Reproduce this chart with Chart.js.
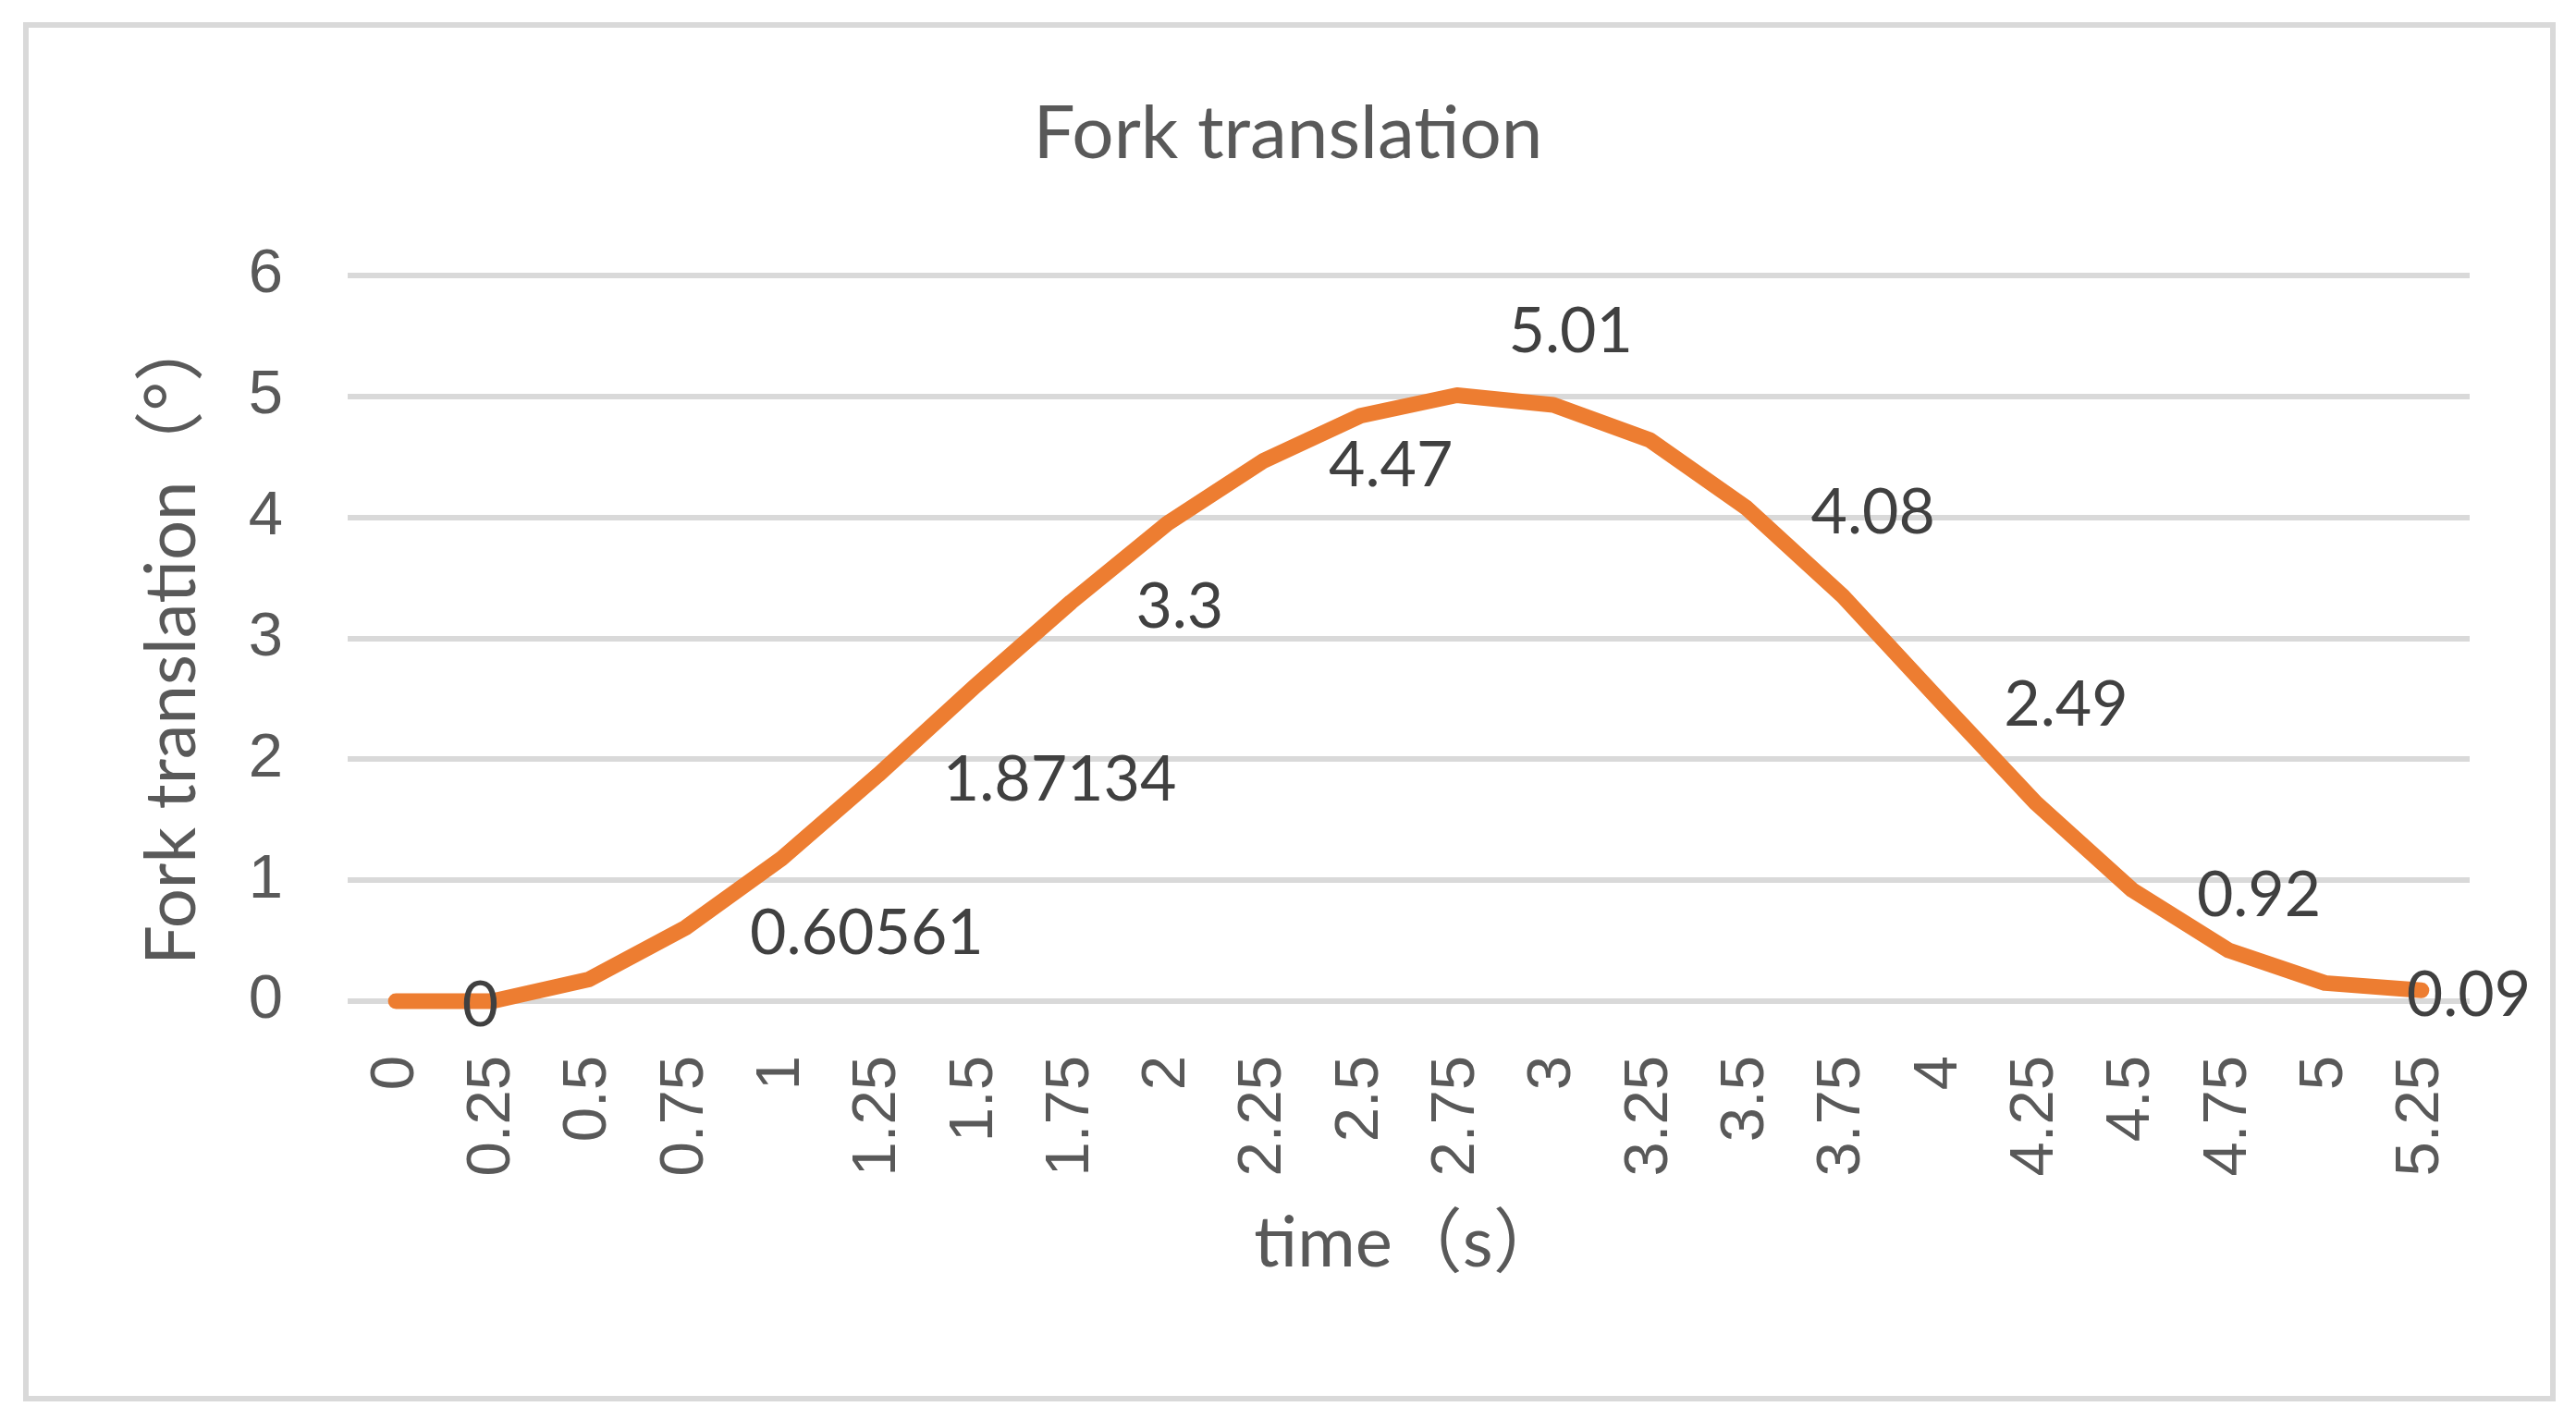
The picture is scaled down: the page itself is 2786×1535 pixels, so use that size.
<!DOCTYPE html>
<html>
<head>
<meta charset="utf-8">
<script src="https://cdn.jsdelivr.net/npm/chart.js@4.4.0/dist/chart.umd.min.js"></script>
<style>
  html, body { margin: 0; padding: 0; background: #fff; }
  body { width: 2786px; height: 1535px; position: relative; overflow: hidden; }
  .frame { position: absolute; left: 25px; top: 24px; width: 2727px; height: 1480px; border: 6px solid #d9d9d9; }
  #forkChart { position: absolute; left: 0; top: 0; }
</style>
</head>
<body>
<div class="frame"></div>
<canvas id="forkChart" width="2786" height="1535"></canvas>
<script>
const timeLabels = ['0', '0.25', '0.5', '0.75', '1', '1.25', '1.5', '1.75', '2', '2.25', '2.5',
    '2.75', '3', '3.25', '3.5', '3.75', '4', '4.25', '4.5', '4.75', '5', '5.25'];
const forkValues = [0, 0, 0.18, 0.60561, 1.18, 1.87134, 2.6, 3.3, 3.95, 4.47, 4.84,
    5.01, 4.93, 4.64, 4.08, 3.35, 2.49, 1.64, 0.92, 0.42, 0.15, 0.09];
// points that carry a value label in the original
const labelledPoints = [1, 3, 5, 7, 9, 11, 14, 16, 18, 21];
const yTicks = [0, 1, 2, 3, 4, 5, 6];

// most labels sit to the right of their point, a few were moved by hand
const labelOffsets = {
    1: { dx: -13, dy: 27, align: 'center' },
    11: { dx: 123, dy: -47, align: 'center' },
    21: { dx: -16, dy: 28, align: 'left' }
};

const pointLabels = {
    id: 'pointLabels',
    afterDatasetsDraw(chart) {
        const { ctx, scales: { x, y } } = chart;
        ctx.save();
        ctx.font = '68px Lato';
        ctx.fillStyle = '#404040';
        ctx.textBaseline = 'alphabetic';
        labelledPoints.forEach(i => {
            const off = labelOffsets[i] || { dx: 70, dy: 28, align: 'left' };
            ctx.textAlign = off.align;
            ctx.fillText(String(forkValues[i]),
                x.getPixelForValue(i) + off.dx,
                y.getPixelForValue(forkValues[i]) + off.dy);
        });
        ctx.restore();
    }
};

const tickFont = { family: "'Liberation Sans', Arial, sans-serif", size: 67 };
const titleFamily = "Lato, 'Noto Sans CJK SC', sans-serif";

const ctx = document.getElementById('forkChart').getContext('2d');
new Chart(ctx, {
    type: 'line',
    data: {
        labels: timeLabels,
        datasets: [{
            data: forkValues,
            borderColor: '#ED7D31',
            borderWidth: 17,
            borderCapStyle: 'round',
            borderJoinStyle: 'round',
            pointRadius: 0,
            tension: 0,
            fill: false,
            clip: false
        }]
    },
    options: {
        responsive: false,
        animation: false,
        layout: { padding: 0 },
        plugins: {
            legend: { display: false },
            tooltip: { enabled: false },
            title: {
                display: true,
                text: 'Fork translation',
                color: '#595959',
                font: { family: titleFamily, size: 80, weight: 'normal', lineHeight: 1.2 },
                padding: { top: 97, bottom: 105 }
            }
        },
        scales: {
            x: {
                offset: true,
                grid: { display: false },
                border: { display: false },
                ticks: {
                    color: '#595959',
                    font: tickFont,
                    minRotation: 90,
                    maxRotation: 90,
                    autoSkip: false,
                    padding: 51
                },
                title: {
                    display: true,
                    text: 'time（s）',
                    color: '#595959',
                    font: { family: titleFamily, size: 76, lineHeight: 1.2 },
                    padding: { top: 0, bottom: 144 }
                },
                afterFit(scale) { scale.height = 452; }
            },
            y: {
                min: yTicks[0],
                max: yTicks[yTicks.length - 1],
                ticks: { stepSize: 1, color: '#595959', font: tickFont, padding: 70 },
                grid: { color: '#D9D9D9', lineWidth: 6, drawTicks: false },
                border: { display: false },
                title: {
                    display: true,
                    text: 'Fork translation（°）',
                    color: '#595959',
                    font: { family: titleFamily, size: 76, lineHeight: 1.2 },
                    padding: { top: 141, bottom: 0 }
                },
                afterFit(scale) { scale.width = 376; }
            },
            // empty right-hand strip so the plot stops where the original does
            // while the chart title stays centred on the whole page
            yRight: {
                position: 'right',
                display: true,
                grid: { display: false },
                border: { display: false },
                ticks: { display: false },
                afterFit(scale) { scale.width = 115; }
            }
        }
    },
    plugins: [pointLabels]
});
</script>
</body>
</html>
